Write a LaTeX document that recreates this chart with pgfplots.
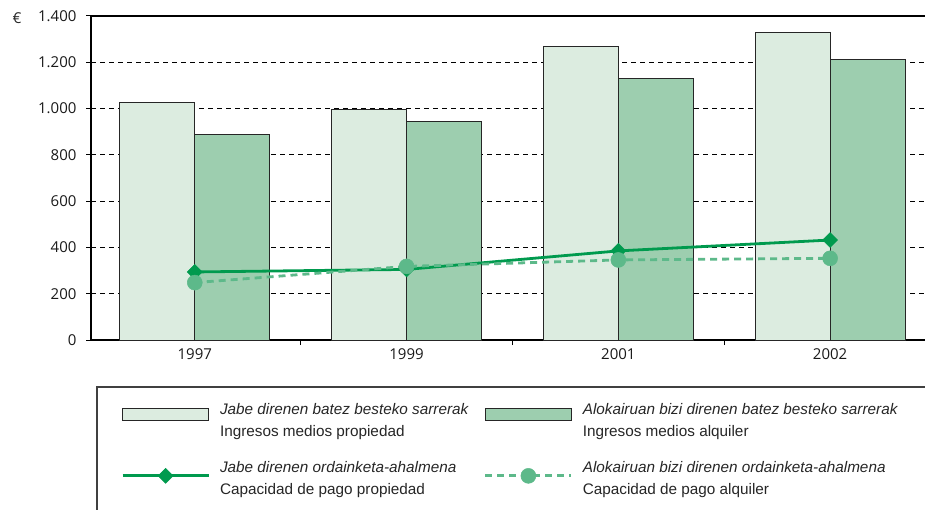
\documentclass[border=0pt]{standalone}
\usepackage{pgfplots}
\pgfplotsset{compat=1.18}
\usepackage{fontspec}
\setmainfont{Liberation Sans}
\newfontfamily\tickfont{Open Sans}
\definecolor{barlight}{RGB}{220,236,224}
\definecolor{bardark}{RGB}{157,206,175}
\definecolor{linedark}{RGB}{0,154,78}
\definecolor{linelight}{RGB}{93,185,138}
\newcommand{\legtxt}[2]{\fontsize{15.3}{22}\selectfont\makebox[264pt][l]{\begin{tabular}{@{}l@{}}\textit{#1}\\#2\end{tabular}}}
\pgfplotsset{
  barleg/.style={legend image code/.code={\draw[##1] (0pt,0pt) rectangle (86pt,12pt); \path (96pt,0pt);}},
  lineleg/.style={legend image code/.code={\draw[mark repeat=2, mark phase=2, ##1] plot coordinates {(0pt,3.5pt) (43pt,3.5pt) (86pt,3.5pt)}; \path (96pt,0pt);}},
}
\begin{document}
\begin{tikzpicture}
\useasboundingbox (0,0) rectangle (925pt,-510pt);
\clip (0,0) rectangle (925pt,-510pt);
\begin{axis}[
  at={(91pt,-340pt)}, anchor=south west,
  width=845pt, height=324pt, scale only axis,
  xmin=-0.49, xmax=3.5, ymin=0, ymax=1400,
  ytick={0,200,...,1400},
  xtick={0.5,1.5,2.5}, xticklabels={},
  extra x ticks={0,1,2,3},
  extra x tick labels={1997,1999,2001,2002},
  extra x tick style={major tick length=0pt, grid=none},
  xtick pos=bottom, ytick pos=left,
  tick align=outside, major tick length=5pt,
  tick style={black, line width=1pt},
  ymajorgrids, grid style={black, line width=1pt, dash pattern=on 5pt off 4pt},
  axis line style={black, line width=1.2pt},
  tick label style={font=\tickfont\fontsize{15}{18}\selectfont, text=black!90},
  yticklabel style={xshift=-6pt},
  xticklabel style={yshift=-5pt},
  /pgf/number format/assume math mode=true,
  /pgf/number format/1000 sep={.},
  legend columns=2,
  legend cell align=left,
  legend style={at={(0.0355,-0.181)}, anchor=north west, draw=none, fill=none,
    inner sep=0pt, column sep=0pt, row sep=14.5pt,
    nodes={inner sep=0pt, anchor=west, text depth={}, text height={}, text=black!85}},
]
\addplot[ybar, bar width=75pt, bar shift=-37.5pt, fill=barlight, draw=black!85, line width=1pt, barleg]
  coordinates {(0,1028) (1,994) (2,1270) (3,1328)};
\addlegendentry{\legtxt{Jabe direnen batez besteko sarrerak}{Ingresos medios propiedad}}
\addplot[ybar, bar width=75pt, bar shift=37.5pt, fill=bardark, draw=black!85, line width=1pt, barleg]
  coordinates {(0,890) (1,946) (2,1131) (3,1213)};
\addlegendentry{\legtxt{Alokairuan bizi direnen batez besteko sarrerak}{Ingresos medios alquiler}}
\addplot[linedark, line width=2.8pt, mark=square*, mark size=5.3pt, mark options={rotate=45, solid, line width=0.5pt}, lineleg]
  coordinates {(0,294) (1,305) (2,385) (3,432)};
\addlegendentry{\legtxt{Jabe direnen ordainketa-ahalmena}{Capacidad de pago propiedad}}
\addplot[linelight, line width=2.8pt, dash pattern=on 7pt off 5pt, mark=*, mark size=7.5pt, mark options={solid, line width=0.5pt}, lineleg]
  coordinates {(0,248) (1,318) (2,346) (3,353)};
\addlegendentry{\legtxt{Alokairuan bizi direnen ordainketa-ahalmena}{Capacidad de pago alquiler}}
\end{axis}
\node[font=\tickfont\fontsize{15}{18}\selectfont, text=black!85] at (17pt,-18pt) {€};
\draw[line width=1.5pt, black!75] (97pt,-540pt) -- (97pt,-387pt) -- (945pt,-387pt);
\end{tikzpicture}
\end{document}
